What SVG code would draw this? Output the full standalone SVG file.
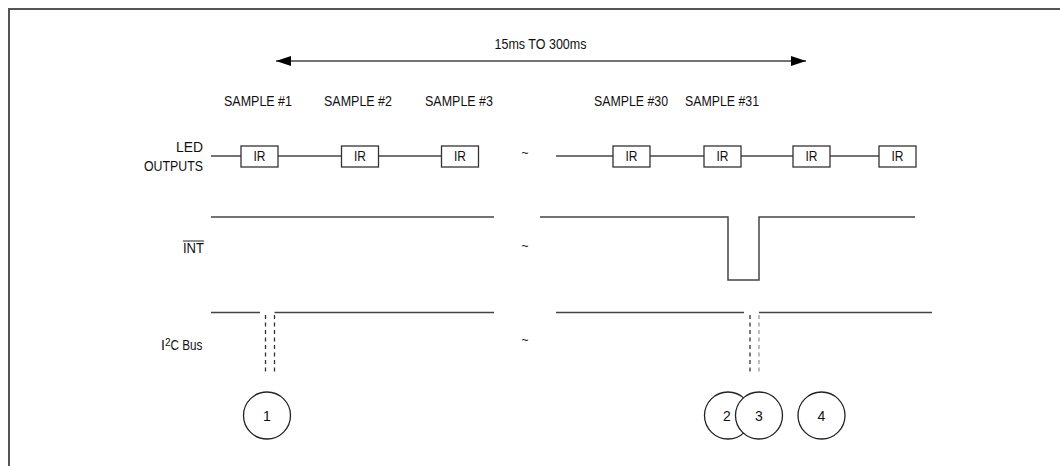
<svg xmlns="http://www.w3.org/2000/svg" width="1060" height="466" viewBox="0 0 1060 466">
<defs>
<marker id="ah" markerWidth="15" markerHeight="10" refX="15" refY="5" orient="auto-start-reverse" markerUnits="userSpaceOnUse">
<path d="M0,0 L15,5 L0,10 Z" fill="#000"/>
</marker>
<style>
text{font-family:"Liberation Sans",Arial,sans-serif;font-size:14px;fill:#111}
.m{text-anchor:middle}
.r{text-anchor:end}
.w{fill:none;stroke:#444;stroke-width:1.5}
.box{fill:#fff;stroke:#333;stroke-width:1.3}
.d{stroke:#333;stroke-width:1.3;stroke-dasharray:4 3.5}
.d2{stroke:#999;stroke-width:1.3;stroke-dasharray:4 3.5}
.c{fill:#fff;stroke:#222;stroke-width:1.3}
.t{font-size:12px}
</style>
</defs>
<rect width="1060" height="466" fill="#fff"/>
<path d="M9,466 V9 H1060" fill="none" stroke="#555" stroke-width="2"/>

<g id="period">
<line x1="276" y1="61" x2="806" y2="61" stroke="#444" stroke-width="1.5" marker-start="url(#ah)" marker-end="url(#ah)"/>
<text class="m" x="540.5" y="49" textLength="92" lengthAdjust="spacingAndGlyphs">15ms TO 300ms</text>
</g>

<g id="samples">
<text class="m" x="258" y="106" textLength="68" lengthAdjust="spacingAndGlyphs">SAMPLE #1</text>
<text class="m" x="358" y="106" textLength="68" lengthAdjust="spacingAndGlyphs">SAMPLE #2</text>
<text class="m" x="459" y="106" textLength="68" lengthAdjust="spacingAndGlyphs">SAMPLE #3</text>
<text class="m" x="631" y="106" textLength="74" lengthAdjust="spacingAndGlyphs">SAMPLE #30</text>
<text class="m" x="722" y="106" textLength="74" lengthAdjust="spacingAndGlyphs">SAMPLE #31</text>
</g>

<g id="labels">
<text class="r" x="203" y="152" textLength="27" lengthAdjust="spacingAndGlyphs">LED</text>
<text class="r" x="203" y="171" textLength="59" lengthAdjust="spacingAndGlyphs">OUTPUTS</text>
<text class="r" x="204" y="253" textLength="21" lengthAdjust="spacingAndGlyphs">INT</text>
<line x1="183" y1="241" x2="204" y2="241" stroke="#222" stroke-width="1"/>
<text x="161" y="350">I<tspan font-size="10px" dy="-4">2</tspan><tspan dy="4" textLength="32" lengthAdjust="spacingAndGlyphs">C Bus</tspan></text>
<text class="m t" x="525" y="157">~</text>
<text class="m t" x="525" y="250">~</text>
<text class="m t" x="525" y="344">~</text>
</g>

<g id="connectors">
<line class="w" x1="211" y1="156" x2="441" y2="156"/>
<line class="w" x1="556" y1="156" x2="879" y2="156"/>
<path class="w" d="M211,217 H494"/>
<path class="w" d="M540,217 H728 V280 H759 V217 H915"/>
<path class="w" d="M211,312.5 H260 M274.5,312.5 H494"/>
<path class="w" d="M556,312.5 H744 M759,312.5 H932"/>
<line class="d" x1="265.5" y1="315" x2="265.5" y2="375"/>
<line class="d" x1="274.5" y1="315" x2="274.5" y2="375"/>
<line class="d" x1="750" y1="315" x2="750" y2="375"/>
<line class="d2" x1="759" y1="315" x2="759" y2="375"/>
</g>

<g id="ir1"><rect class="box" x="241" y="146" width="37" height="21"/><text class="m" x="259.5" y="161" textLength="12" lengthAdjust="spacingAndGlyphs">IR</text></g>
<g id="ir2"><rect class="box" x="341.5" y="146" width="37" height="21"/><text class="m" x="360" y="161" textLength="12" lengthAdjust="spacingAndGlyphs">IR</text></g>
<g id="ir3"><rect class="box" x="441.5" y="146" width="37" height="21"/><text class="m" x="460" y="161" textLength="12" lengthAdjust="spacingAndGlyphs">IR</text></g>
<g id="ir30"><rect class="box" x="613" y="146" width="37" height="21"/><text class="m" x="631.5" y="161" textLength="12" lengthAdjust="spacingAndGlyphs">IR</text></g>
<g id="ir31"><rect class="box" x="704" y="146" width="37" height="21"/><text class="m" x="722.5" y="161" textLength="12" lengthAdjust="spacingAndGlyphs">IR</text></g>
<g id="ir32"><rect class="box" x="793" y="146" width="37" height="21"/><text class="m" x="811.5" y="161" textLength="12" lengthAdjust="spacingAndGlyphs">IR</text></g>
<g id="ir33"><rect class="box" x="879" y="146" width="37" height="21"/><text class="m" x="897.5" y="161" textLength="12" lengthAdjust="spacingAndGlyphs">IR</text></g>

<g id="c1"><circle class="c" cx="267" cy="415.5" r="23.5"/><text class="m" x="267" y="420.5">1</text></g>
<g id="c2"><circle class="c" cx="728" cy="415.5" r="23.5"/><text class="m" x="727" y="420.5">2</text></g>
<g id="c3"><circle class="c" cx="759" cy="415.5" r="23.5"/><text class="m" x="759" y="420.5">3</text></g>
<g id="c4"><circle class="c" cx="821.5" cy="415.5" r="23.5"/><text class="m" x="821.5" y="420.5">4</text></g>
</svg>
